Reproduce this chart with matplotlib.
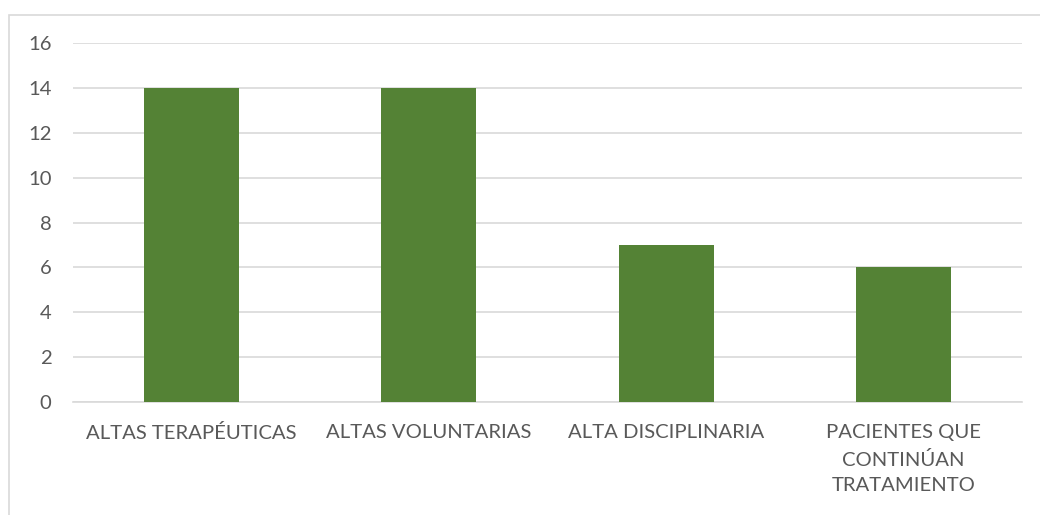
import matplotlib
matplotlib.use("Agg")
import matplotlib.pyplot as plt
from matplotlib.patches import Rectangle

categories = ["ALTAS TERAPÉUTICAS", "ALTAS VOLUNTARIAS", "ALTA DISCIPLINARIA",
              "PACIENTES QUE\nCONTINÚAN\nTRATAMIENTO"]
values = [14, 14, 7, 6]
yticks = [0, 2, 4, 6, 8, 10, 12, 14, 16]

plt.rcParams['font.family'] = ['Lato', 'DejaVu Sans']
W, H = 1040, 515
fig = plt.figure(figsize=(W / 100, H / 100), dpi=100)
ax = fig.add_axes([73 / W, 1 - 402 / H, (1022 - 73) / W, (402 - 43) / H])

# chart border
fig.patches.append(Rectangle((9 / W, -0.05), 1.1, 1 - 15 / H + 0.05,
                             transform=fig.transFigure, fill=False,
                             edgecolor='#d9d9d9', linewidth=1.2))

x = list(range(len(categories)))
ax.bar(x, values, width=0.4, color='#548235', zorder=3)
ax.set_xlim(-0.5, len(categories) - 0.5)
ax.set_ylim(0, 16)
ax.set_yticks(yticks)
ax.set_xticks(x)
ax.set_xticklabels(categories, linespacing=1.62)
ax.grid(axis='y', color='#d9d9d9', linewidth=1.2, zorder=0)
for s in ['top', 'right', 'left']:
    ax.spines[s].set_visible(False)
ax.spines['bottom'].set_color('#d9d9d9')
ax.spines['bottom'].set_linewidth(1.2)
ax.tick_params(axis='both', length=0, labelsize=14.6, colors='#595959')
ax.tick_params(axis='y', pad=15.5)
ax.tick_params(axis='x', pad=16)

fig.savefig("out.png", dpi=100)
